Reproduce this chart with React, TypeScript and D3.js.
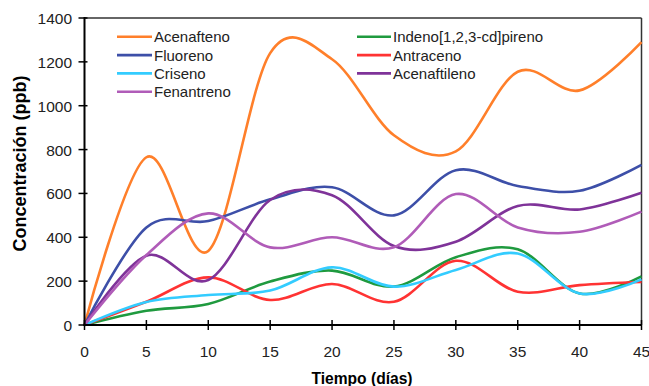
import React from "react";
import * as d3 from "d3";

const days = [0, 5, 10, 15, 20, 25, 30, 35, 40, 45];
const acenafteno = [0, 765, 338, 1240, 1212, 865, 792, 1155, 1070, 1290];
const indeno = [0, 65, 96, 198, 248, 175, 309, 345, 144, 222];
const fluoreno = [0, 445, 474, 573, 628, 500, 706, 634, 612, 730];
const antraceno = [0, 106, 217, 114, 187, 106, 293, 152, 182, 196];
const criseno = [0, 105, 137, 157, 263, 175, 251, 326, 144, 208];
const acenaftileno = [0, 316, 205, 570, 592, 360, 380, 543, 527, 603];
const fenantreno = [0, 319, 509, 354, 400, 355, 597, 445, 425, 517];

const seriesNames = [
  "Acenafteno",
  "Indeno[1,2,3-cd]pireno",
  "Fluoreno",
  "Antraceno",
  "Criseno",
  "Acenaftileno",
  "Fenantreno",
];
const seriesValues = [acenafteno, indeno, fluoreno, antraceno, criseno, acenaftileno, fenantreno];
const seriesColors = ["#FF7F2A", "#1F9A3F", "#3D4FA8", "#FF3333", "#33CCFF", "#7F3399", "#B05CB8"];

const xTicks = [0, 5, 10, 15, 20, 25, 30, 35, 40, 45];
const yTicks = [0, 200, 400, 600, 800, 1000, 1200, 1400];

const W = 649;
const H = 386;
const FONT = "Liberation Sans, Arial, sans-serif";

export default function App() {
  const x = d3.scaleLinear().domain([0, 45]).range([84.5, 641.5]);
  const y = d3.scaleLinear().domain([0, 1400]).range([325, 18]);
  const line = d3
    .line<[number, number]>()
    .x((d) => x(d[0]))
    .y((d) => y(d[1]))
    .curve(d3.curveCatmullRom.alpha(0));

  const legendCols = [
    { lx1: 117, lx2: 152, tx: 154 },
    { lx1: 357, lx2: 391, tx: 393 },
  ];
  const legendRow0 = 36.8;
  const legendDy = 18.3;

  return (
    <svg
      width={W}
      height={H}
      style={{ position: "absolute", left: 0, top: 0, background: "#fff" }}
      fontFamily={FONT}
    >
      <rect x={0} y={0} width={W} height={H} fill="#fff" />
      <line x1={x(0)} x2={x(45)} y1={y(1400)} y2={y(1400)} stroke="#333" strokeWidth={1.5} />
      <line x1={x(45)} x2={x(45)} y1={y(1400)} y2={y(0)} stroke="#333" strokeWidth={1.5} />

      {seriesValues.map((vals, i) => (
        <path
          key={seriesNames[i]}
          d={line(days.map((d, j) => [d, vals[j]] as [number, number])) || ""}
          fill="none"
          stroke={seriesColors[i]}
          strokeWidth={2.6}
          strokeLinejoin="round"
        />
      ))}

      <line x1={x(0)} x2={x(0)} y1={y(1400) - 1} y2={y(0) + 1} stroke="#000" strokeWidth={2} />
      <line x1={x(0) - 1} x2={x(45)} y1={y(0)} y2={y(0)} stroke="#000" strokeWidth={2} />
      {yTicks.map((t) => (
        <g key={"y" + t}>
          <line x1={x(0) - 6} x2={x(0) + 3} y1={y(t)} y2={y(t)} stroke="#000" strokeWidth={1.5} />
          <text x={72} y={y(t) + 6} textAnchor="end" fontSize={15.5} fill="#222">
            {t}
          </text>
        </g>
      ))}
      {xTicks.map((t) => (
        <g key={"x" + t}>
          <line x1={x(t)} x2={x(t)} y1={y(0) - 5} y2={y(0) + 5} stroke="#000" strokeWidth={1.5} />
          <text x={x(t)} y={357} textAnchor="middle" fontSize={15.5} fill="#222">
            {t}
          </text>
        </g>
      ))}

      <text
        transform={`translate(26,${163.5}) rotate(-90)`}
        textAnchor="middle"
        fontSize={18}
        fontWeight="bold"
        fill="#000"
      >
        Concentración (ppb)
      </text>
      <text x={362} y={384} textAnchor="middle" fontSize={15.6} fontWeight="bold" fill="#000">
        Tiempo (días)
      </text>

      {seriesNames.map((name, i) => {
        const col = legendCols[i % 2];
        const row = Math.floor(i / 2);
        const ly = legendRow0 + row * legendDy;
        return (
          <g key={"lg" + name}>
            <line x1={col.lx1} x2={col.lx2} y1={ly} y2={ly} stroke={seriesColors[i]} strokeWidth={2.6} />
            <text x={col.tx} y={ly + 5.5} fontSize={15} fill="#222">
              {name}
            </text>
          </g>
        );
      })}
    </svg>
  );
}
